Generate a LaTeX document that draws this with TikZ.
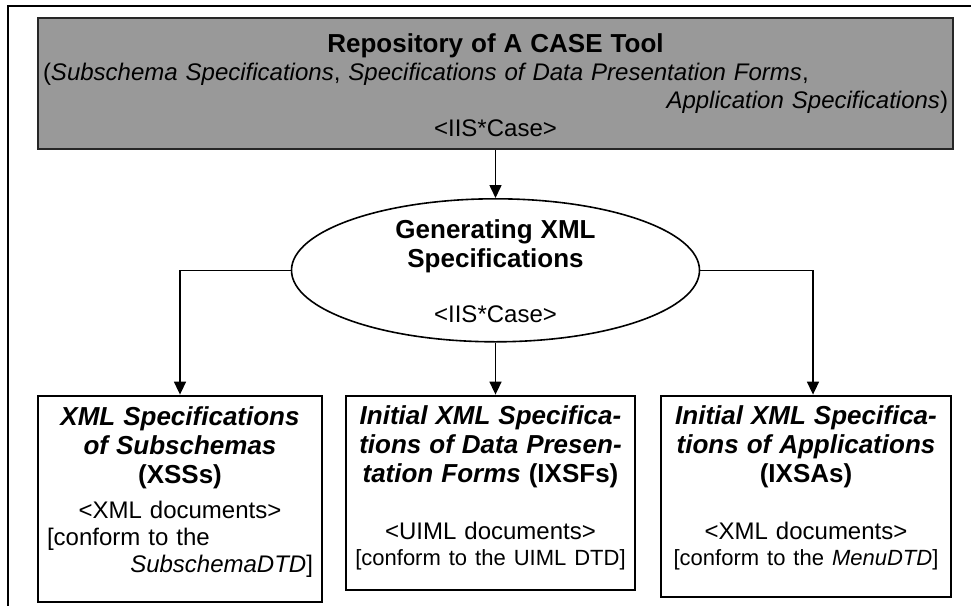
\documentclass[tikz,border=0pt]{standalone}
\usepackage{fontspec}
\setmainfont{Liberation Sans}
\usetikzlibrary{positioning, arrows.meta, shapes.geometric}

\newcommand{\boxtitle}{\fontsize{26}{29}\selectfont\bfseries}

\begin{document}
\begin{tikzpicture}[x=1pt, y=-1pt,
    >={Triangle[length=13pt, width=12pt]},
    every node/.style={font=\fontsize{24}{28}\selectfont},
    repobox/.style={draw=black!85, line width=2pt, fill=black!40,
        inner xsep=5pt, inner ysep=0pt, text width=905pt, align=center,
        text height=34pt, text depth=97pt},
    proc/.style={ellipse, draw, line width=1.6pt, inner sep=0pt,
        minimum width=408pt, minimum height=143pt, text width=280pt,
        align=center, text height=18pt, text depth=82pt},
    spec/.style={draw, line width=2pt, inner ysep=0pt, align=center,
        font=\fontsize{24}{27}\selectfont},
    link/.style={->, line width=1.6pt}]

    \useasboundingbox (0,0) rectangle (971,605);
    \draw[line width=2.5pt] (8,620) -- (8,6) -- (985,6);

    \node[repobox] (repo) at (495.5,83.5) {%
        {\fontsize{26}{28}\selectfont\bfseries Repository of A CASE Tool\par}
        \makebox[\linewidth][l]{(\textit{Subschema Specifications}, \textit{Specifications of Data Presentation Forms},}\\
        \makebox[\linewidth][r]{\textit{Application Specifications})}\\
        <IIS*Case>};
    \node[proc] (gen) [below=48pt of repo] {%
        {\boxtitle Generating XML\\ Specifications\par}
        \vspace{27pt}
        <IIS*Case>};

    \node[spec, text width=275pt, inner xsep=7pt, text height=29pt, text depth=165pt]
        (IXSF) [below=52pt of gen, xshift=-5pt] {%
        {\boxtitle\itshape Initial XML Specifica-\\ tions of Data Presen-\\ tation Forms \upshape(IXSFs)\par}
        \vspace{30pt}
        <UIML documents>\\ {\fontsize{22}{26}\selectfont [conform to the UIML DTD]\par}};
    \node[spec, text width=266pt, inner xsep=9pt, text height=30pt, text depth=176pt,
        anchor=north east] (XSS) at ([xshift=-22pt]IXSF.north west) {%
        {\boxtitle\itshape XML Specifications\\ of Subschemas\\ \upshape(XSSs)\par}
        \vspace{8pt}
        <XML documents>\\
        \makebox[\linewidth][l]{[conform to the}\\
        \makebox[\linewidth][r]{\textit{SubschemaDTD}]}};
    \node[spec, text width=276pt, inner xsep=7pt, text height=29pt, text depth=172pt,
        anchor=north west] (IXSA) at ([xshift=24pt]IXSF.north east) {%
        {\boxtitle\itshape Initial XML Specifica-\\ tions of Applications\\ \upshape(IXSAs)\par}
        \vspace{30pt}
        <XML documents>\\ {\fontsize{22}{26}\selectfont [conform to the \textit{MenuDTD}]\par}};

    \draw[link] (repo.south -| gen.north) -- (gen.north);
    \draw[link] (gen.west) -| (XSS.north);
    \draw[link] (gen.south) -- (gen.south |- IXSF.north);
    \draw[link] (gen.east) -| ([xshift=7pt]IXSA.north);
\end{tikzpicture}
\end{document}
